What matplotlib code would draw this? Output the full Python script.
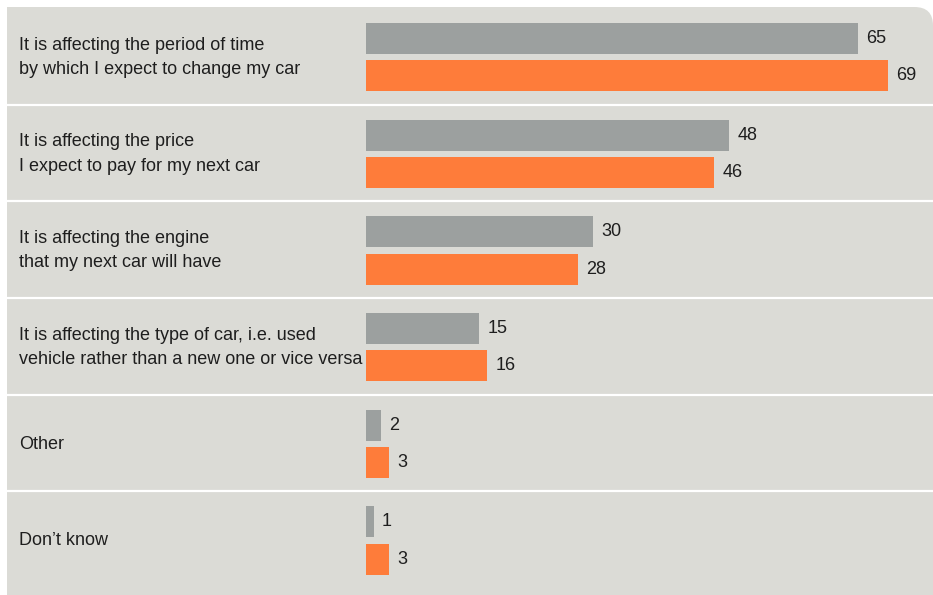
import matplotlib.pyplot as plt
from matplotlib.patches import FancyBboxPatch, Rectangle
from matplotlib import font_manager

categories = [
    "It is affecting the period of time\nby which I expect to change my car",
    "It is affecting the price\nI expect to pay for my next car",
    "It is affecting the engine\nthat my next car will have",
    "It is affecting the type of car, i.e. used\nvehicle rather than a new one or vice versa",
    "Other",
    "Don\u2019t know",
]
grey_values = [65, 48, 30, 15, 2, 1]
orange_values = [69, 46, 28, 16, 3, 3]

GREY = "#9ca09f"
ORANGE = "#fe7c3a"
PANEL = "#dbdbd6"
TEXT = "#1e1e1e"

names = {f.name for f in font_manager.fontManager.ttflist}
family = "Liberation Sans Narrow" if "Liberation Sans Narrow" in names else "Liberation Sans"
plt.rcParams["font.family"] = [family, "DejaVu Sans"]

W, H = 933, 595
fig = plt.figure(figsize=(W / 100, H / 100), dpi=100)
fig.patch.set_facecolor("white")

left, top = 7, 7
ax = fig.add_axes([left / W, 0, (W - left) / W, (H - top) / H])
ax.set_facecolor("none")

# grey panel with a rounded top-right corner
ax.add_patch(FancyBboxPatch((0.1, -0.2), 0.9, 1.2, boxstyle="round,pad=0,rounding_size=0.02",
                            transform=ax.transAxes, facecolor=PANEL, edgecolor="none",
                            zorder=0, mutation_aspect=(W - left) / (H - top)))
ax.add_patch(Rectangle((0, 0), 0.5, 1, transform=ax.transAxes, facecolor=PANEL,
                       edgecolor="none", zorder=0))

px_per_unit = (888 - 366) / 69
ax.set_xlim((left - 366) / px_per_unit, (W - 366) / px_per_unit)
row_px = 96.7
ax.set_ylim(-0.51 + (H - top) / row_px, -0.51)

n = len(categories)
ys = list(range(n))
bar_h = 31 / row_px
ax.barh([y - 0.185 for y in ys], grey_values, height=bar_h, color=GREY, zorder=2)
ax.barh([y + 0.20 for y in ys], orange_values, height=bar_h, color=ORANGE, zorder=2)

for y, g, o in zip(ys, grey_values, orange_values):
    ax.annotate(str(g), (g, y - 0.185), xytext=(6, 0), textcoords="offset points",
                va="center", ha="left", fontsize=13, color=TEXT)
    ax.annotate(str(o), (o, y + 0.20), xytext=(6, 0), textcoords="offset points",
                va="center", ha="left", fontsize=13, color=TEXT)

label_x = (19 - 366) / px_per_unit
for y, cat in zip(ys, categories):
    ax.text(label_x, y + 0.01, cat, va="center", ha="left", fontsize=13, color=TEXT,
            linespacing=1.55)

# white separators between groups
for y in ys[:-1]:
    ax.axhline(y + 0.5, color="white", lw=1.6, zorder=3)

for s in ax.spines.values():
    s.set_visible(False)
ax.set_xticks([])
ax.set_yticks([])

fig.savefig("out.png", dpi=100, facecolor="white")
